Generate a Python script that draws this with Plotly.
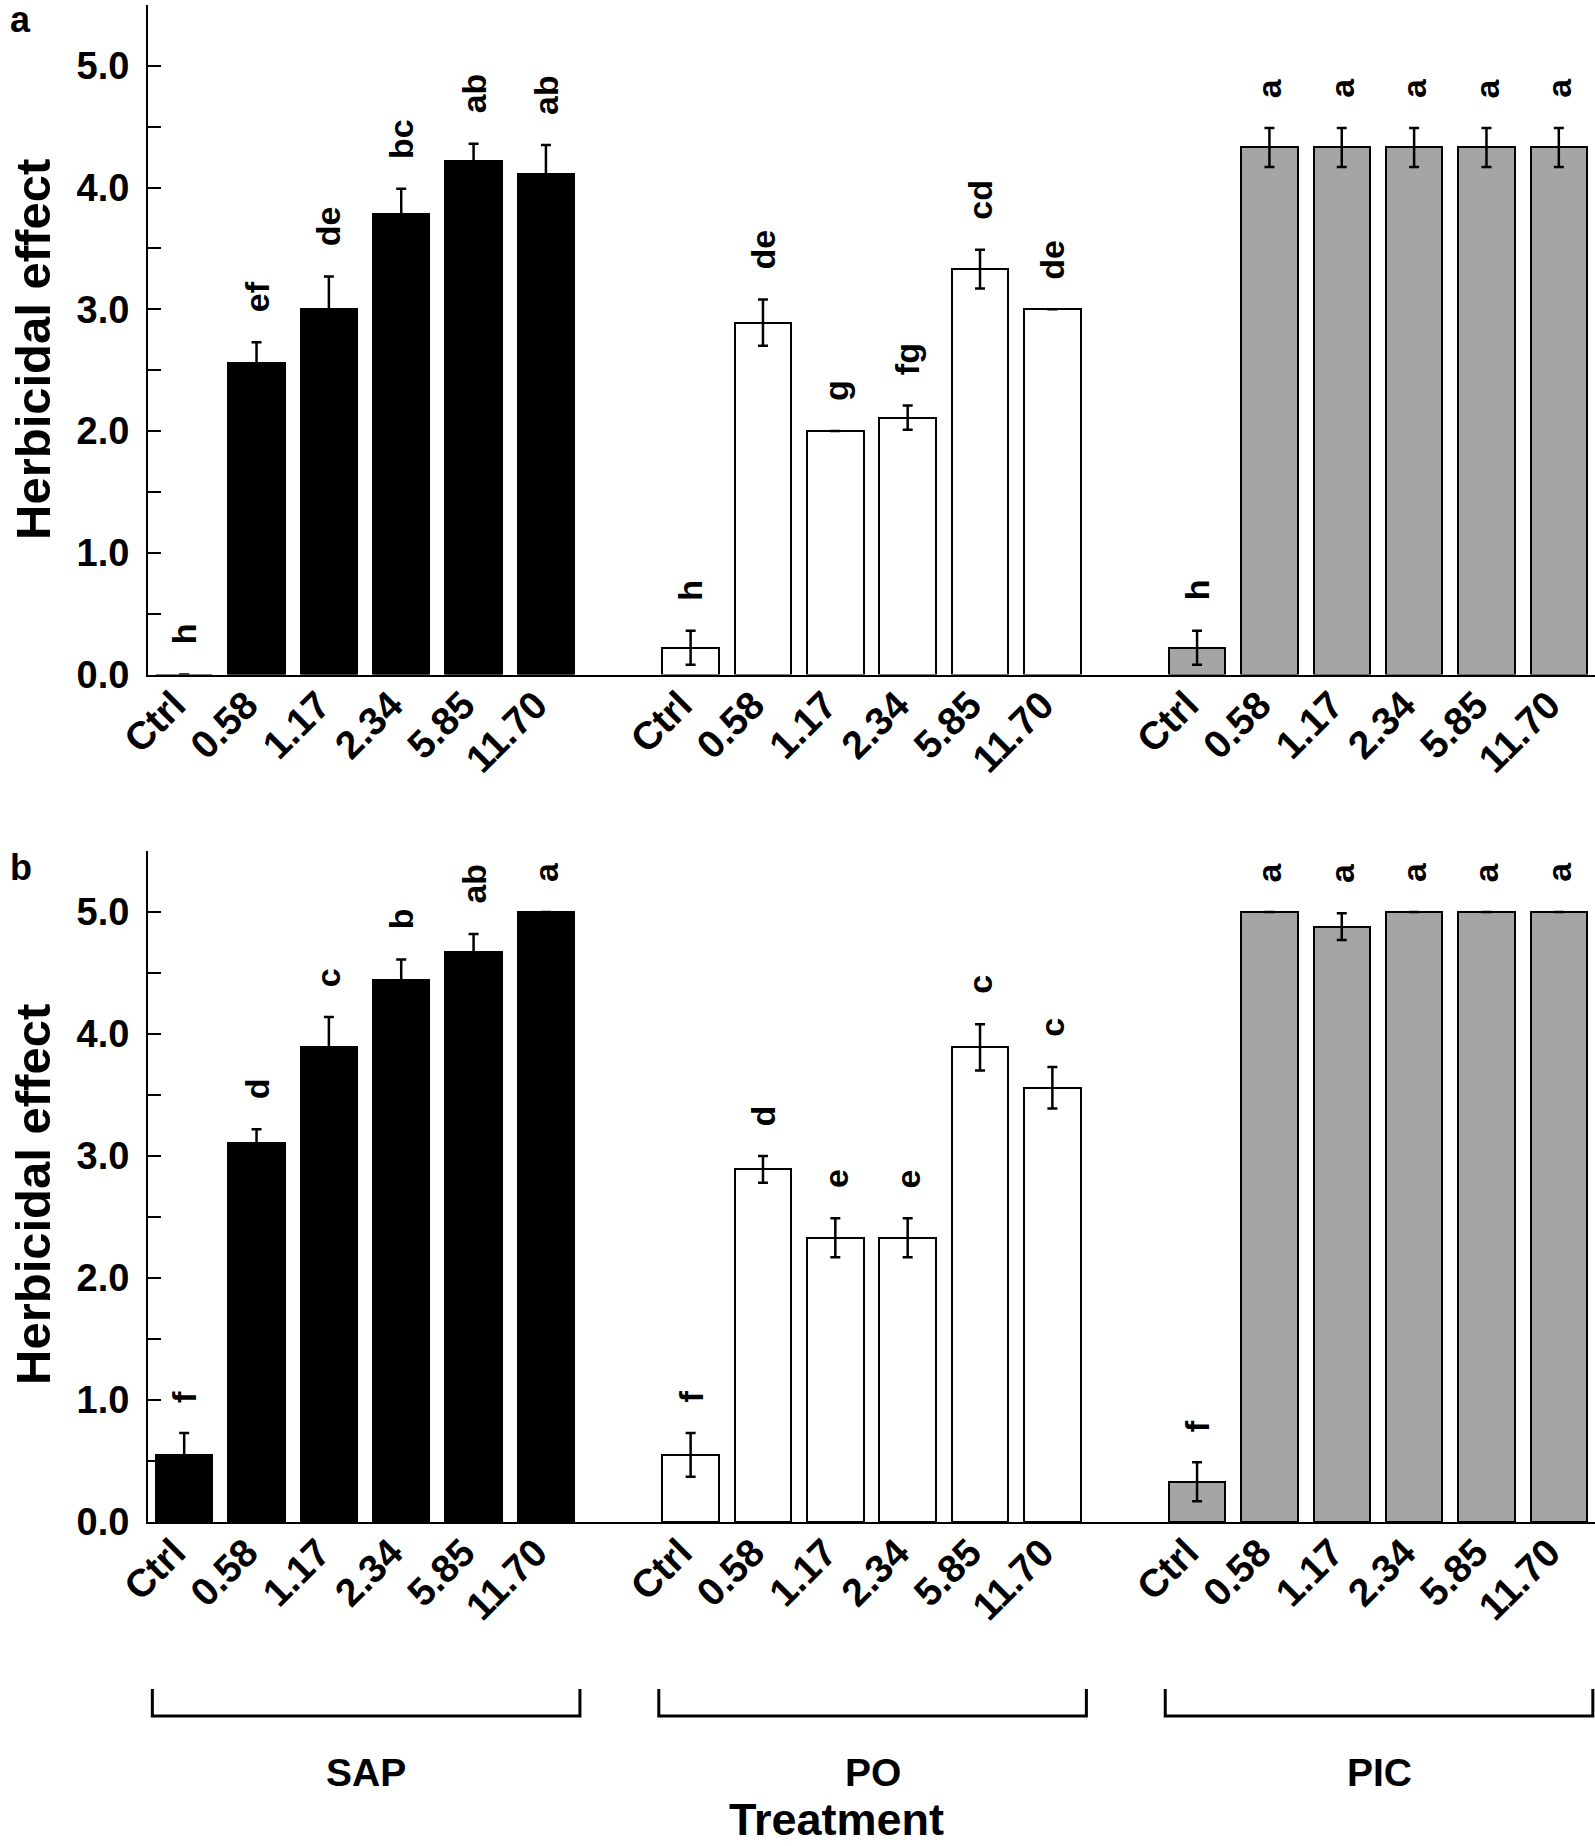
import plotly.graph_objects as go

# ---------------- data ----------------
groups = ["SAP", "PO", "PIC"]
categories = ["Ctrl", "0.58", "1.17", "2.34", "5.85", "11.70"]
y_ticks = [0, 0.5, 1, 1.5, 2, 2.5, 3, 3.5, 4, 4.5, 5, 5.5]

# panel a
a_sap = [0.00, 2.56, 3.00, 3.78, 4.22, 4.11]
a_sap_err = [0.00, 0.17, 0.27, 0.21, 0.14, 0.24]
a_sap_lbl = ["h", "ef", "de", "bc", "ab", "ab"]
a_po = [0.22, 2.89, 2.00, 2.11, 3.33, 3.00]
a_po_err = [0.14, 0.19, 0.0, 0.10, 0.16, 0.0]
a_po_lbl = ["h", "de", "g", "fg", "cd", "de"]
a_pic = [0.22, 4.33, 4.33, 4.33, 4.33, 4.33]
a_pic_err = [0.14, 0.16, 0.16, 0.16, 0.16, 0.16]
a_pic_lbl = ["h", "a", "a", "a", "a", "a"]

# panel b
b_sap = [0.55, 3.11, 3.89, 4.44, 4.67, 5.00]
b_sap_err = [0.18, 0.11, 0.25, 0.17, 0.15, 0.0]
b_sap_lbl = ["f", "d", "c", "b", "ab", "a"]
b_po = [0.55, 2.89, 2.33, 2.33, 3.89, 3.56]
b_po_err = [0.18, 0.11, 0.16, 0.16, 0.19, 0.17]
b_po_lbl = ["f", "d", "e", "e", "c", "c"]
b_pic = [0.33, 5.00, 4.88, 5.00, 5.00, 5.00]
b_pic_err = [0.16, 0.0, 0.11, 0.0, 0.0, 0.0]
b_pic_lbl = ["f", "a", "a", "a", "a", "a"]

# ---------------- style ----------------
W, H = 1595, 1846
ML, MR, MT, MB = 148, 0, 5, 324
PW, PH = W - ML - MR, H - MT - MB
FONT = "Liberation Sans, Arial, Helvetica, sans-serif"
GROUP_STEP = 7
fills = ["#000000", "#ffffff", "#a5a5a5"]


def px_to_paper_x(px):
    return (px - ML) / PW


def px_to_paper_y(py):
    return (H - MB - py) / PH


dom_a = [px_to_paper_y(674.5), 1.0]
dom_b = [0.0, px_to_paper_y(851)]

positions = [g * GROUP_STEP + i for g in range(len(groups)) for i in range(len(categories))]

fig = go.Figure()
annotations = []

panels = [
    ("x", "y", [(a_sap, a_sap_err, a_sap_lbl), (a_po, a_po_err, a_po_lbl), (a_pic, a_pic_err, a_pic_lbl)]),
    ("x2", "y2", [(b_sap, b_sap_err, b_sap_lbl), (b_po, b_po_err, b_po_lbl), (b_pic, b_pic_err, b_pic_lbl)]),
]

for xa, ya, series in panels:
    for g, (vals, errs, lbls) in enumerate(series):
        xs = [g * GROUP_STEP + i for i in range(len(categories))]
        fig.add_trace(go.Bar(
            x=xs, y=vals, xaxis=xa, yaxis=ya, width=0.78,
            marker=dict(color=fills[g], line=dict(color="black", width=2)),
            error_y=dict(type="data", array=errs, visible=True, color="black",
                         thickness=2.5, width=5),
            showlegend=False, hoverinfo="skip",
        ))
        for x, v, e, t in zip(xs, vals, errs, lbls):
            annotations.append(dict(
                x=x, y=v + e, xref=xa, yref=ya, text=t, showarrow=False,
                textangle=-90, xanchor="center", yanchor="bottom", yshift=28,
                font=dict(family=FONT, size=34, color="black", weight="bold"),
            ))

axis_common_x = dict(
    range=[-0.5, 19.5], showline=True, linecolor="black", linewidth=2,
    tickvals=positions, ticktext=categories * len(groups), tickangle=-45,
    ticks="", showgrid=False, zeroline=False, automargin=False,
    ticklabelshift=-10, ticklabelstandoff=-10,
    tickfont=dict(family=FONT, size=39, color="black", weight="bold"),
)
axis_common_y = dict(
    range=[0, 5.5], showline=True, linecolor="black", linewidth=2,
    tickvals=y_ticks, ticktext=[f"{v:.1f}" if v == int(v) else "" for v in y_ticks],
    ticks="inside", ticklen=13, tickwidth=2, tickcolor="black",
    showgrid=False, zeroline=False, automargin=False, ticklabelstandoff=9,
    tickfont=dict(family=FONT, size=38, color="black", weight="bold"),
)

fig.update_layout(
    width=W, height=H,
    margin=dict(l=ML, r=MR, t=MT, b=MB, pad=0),
    paper_bgcolor="white", plot_bgcolor="white",
    bargap=0,
    xaxis=dict(**axis_common_x, anchor="y"),
    yaxis=dict(**axis_common_y, domain=dom_a, anchor="x"),
    xaxis2=dict(**axis_common_x, anchor="y2"),
    yaxis2=dict(**axis_common_y, domain=dom_b, anchor="x2"),
)

# y-axis titles
for ymid in [350, 1195]:
    annotations.append(dict(
        x=px_to_paper_x(33), y=px_to_paper_y(ymid), xref="paper", yref="paper",
        text="Herbicidal effect", showarrow=False, textangle=-90,
        xanchor="center", yanchor="middle",
        font=dict(family=FONT, size=49, color="black", weight="bold"),
    ))

# panel letters
for letter, ymid in [("a", 20), ("b", 867)]:
    annotations.append(dict(
        x=px_to_paper_x(8), y=px_to_paper_y(ymid), xref="paper", yref="paper",
        text=letter, showarrow=False, xanchor="left", yanchor="middle",
        font=dict(family=FONT, size=36, color="black", weight="bold"),
    ))

# group brackets and labels
shapes = []
y_top, y_bot = px_to_paper_y(1689), px_to_paper_y(1716)
for g, name in enumerate(groups):
    x0 = g * GROUP_STEP - 0.44
    x1 = g * GROUP_STEP + len(categories) - 1 + 0.47
    shapes.append(dict(type="path", xref="x2", yref="paper",
                       path=f"M {x0},{y_top} L {x0},{y_bot} L {x1},{y_bot} L {x1},{y_top}",
                       line=dict(color="black", width=3)))
    annotations.append(dict(
        x=(x0 + x1) / 2, y=px_to_paper_y(1772), xref="x2", yref="paper",
        text=name, showarrow=False, xanchor="center", yanchor="middle",
        font=dict(family=FONT, size=39, color="black", weight="bold"),
    ))

annotations.append(dict(
    x=px_to_paper_x(836), y=px_to_paper_y(1819), xref="paper", yref="paper",
    text="Treatment", showarrow=False, xanchor="center", yanchor="middle",
    font=dict(family=FONT, size=45, color="black", weight="bold"),
))

fig.update_layout(annotations=annotations, shapes=shapes)
fig.write_html("out.html", config={"displayModeBar": False},
               post_script="document.body.style.margin='0px';")
